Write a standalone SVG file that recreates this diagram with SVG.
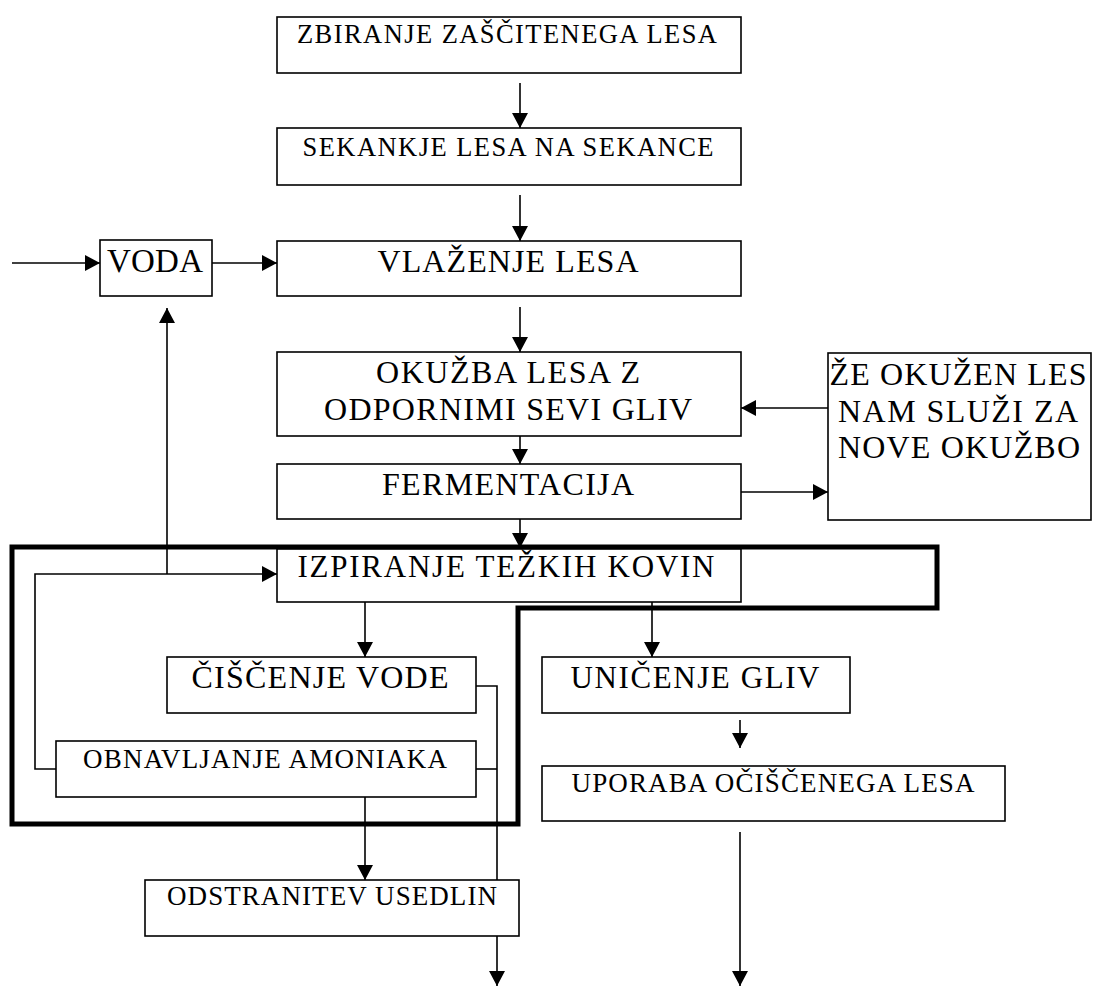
<svg xmlns="http://www.w3.org/2000/svg" width="1093" height="987" viewBox="0 0 1093 987">
<style>
.box{fill:#fff;stroke:#000;stroke-width:1.6}
.t{font-family:"Liberation Serif","Times New Roman",serif;fill:#000;text-anchor:middle}
.c{fill:none;stroke:#000;stroke-width:1.6}
.frame{fill:none;stroke:#000;stroke-width:5;stroke-linejoin:miter}
</style>
<defs>
<marker id="ah" markerUnits="userSpaceOnUse" markerWidth="16" markerHeight="16" refX="15" refY="8" orient="auto">
<path d="M0,0 L15,8 L0,16 Z" fill="#000"/>
</marker>
</defs>
<rect width="1093" height="987" fill="#fff"/>
<path class="frame" d="M12,547 H937 V608 H518 V824 H12 Z"/>
<g id="connectors">
<path class="c" d="M520,83 V128" marker-end="url(#ah)"/>
<path class="c" d="M520,195 V241" marker-end="url(#ah)"/>
<path class="c" d="M12,263 H100" marker-end="url(#ah)"/>
<path class="c" d="M212,263 H277" marker-end="url(#ah)"/>
<path class="c" d="M520,307 V352" marker-end="url(#ah)"/>
<path class="c" d="M520,436 V464" marker-end="url(#ah)"/>
<path class="c" d="M828,408 H741" marker-end="url(#ah)"/>
<path class="c" d="M741,492 H828" marker-end="url(#ah)"/>
<path class="c" d="M520,519 V548" marker-end="url(#ah)"/>
<path class="c" d="M167,574 V308" marker-end="url(#ah)"/>
<path class="c" d="M56,769 H35 V574 H277" marker-end="url(#ah)"/>
<path class="c" d="M365,602 V657" marker-end="url(#ah)"/>
<path class="c" d="M652,602 V657" marker-end="url(#ah)"/>
<path class="c" d="M476,686 H497 V986" marker-end="url(#ah)"/>
<path class="c" d="M476,769 H497"/>
<path class="c" d="M365,797 V880" marker-end="url(#ah)"/>
<path class="c" d="M740,720 V748" marker-end="url(#ah)"/>
<path class="c" d="M740,832 V986" marker-end="url(#ah)"/>
</g>
<g id="n1"><rect class="box" x="277" y="17" width="464" height="56"/><text class="t" x="507" y="43" font-size="26.5" textLength="420" lengthAdjust="spacing">ZBIRANJE ZAŠČITENEGA LESA</text></g>
<g id="n2"><rect class="box" x="277" y="128" width="464" height="57"/><text class="t" x="508" y="156" font-size="26.5" textLength="411" lengthAdjust="spacing">SEKANKJE LESA NA SEKANCE</text></g>
<g id="n3"><rect class="box" x="100" y="240" width="112" height="56"/><text class="t" x="155" y="272" font-size="33" textLength="96" lengthAdjust="spacing">VODA</text></g>
<g id="n4"><rect class="box" x="277" y="241" width="464" height="55"/><text class="t" x="508" y="272" font-size="32" textLength="261" lengthAdjust="spacing">VLAŽENJE LESA</text></g>
<g id="n5"><rect class="box" x="277" y="352" width="464" height="84"/><text class="t" x="508" y="383" font-size="32" textLength="264" lengthAdjust="spacing">OKUŽBA LESA Z</text><text class="t" x="508" y="420" font-size="32" textLength="368" lengthAdjust="spacing">ODPORNIMI SEVI GLIV</text></g>
<g id="n6"><rect class="box" x="277" y="464" width="464" height="55"/><text class="t" x="508" y="495" font-size="32" textLength="252" lengthAdjust="spacing">FERMENTACIJA</text></g>
<g id="n7"><rect class="box" x="828" y="353" width="263" height="167"/><text class="t" x="958" y="385" font-size="32" textLength="257" lengthAdjust="spacing">ŽE OKUŽEN LES</text><text class="t" x="958" y="422" font-size="32" textLength="240" lengthAdjust="spacing">NAM SLUŽI ZA</text><text class="t" x="959" y="458" font-size="32" textLength="242" lengthAdjust="spacing">NOVE OKUŽBO</text></g>
<g id="n8"><rect class="box" x="277" y="549" width="464" height="53"/><text class="t" x="506" y="577" font-size="31" textLength="417" lengthAdjust="spacing">IZPIRANJE TEŽKIH KOVIN</text></g>
<g id="n9"><rect class="box" x="167" y="657" width="309" height="56"/><text class="t" x="320" y="688" font-size="32" textLength="257" lengthAdjust="spacing">ČIŠČENJE VODE</text></g>
<g id="n10"><rect class="box" x="56" y="741" width="420" height="56"/><text class="t" x="265" y="768" font-size="27" textLength="364" lengthAdjust="spacing">OBNAVLJANJE AMONIAKA</text></g>
<g id="n11"><rect class="box" x="145" y="880" width="374" height="56"/><text class="t" x="332" y="905" font-size="27" textLength="330" lengthAdjust="spacing">ODSTRANITEV USEDLIN</text></g>
<g id="n12"><rect class="box" x="542" y="657" width="308" height="56"/><text class="t" x="695" y="688" font-size="31" textLength="249" lengthAdjust="spacing">UNIČENJE GLIV</text></g>
<g id="n13"><rect class="box" x="542" y="766" width="463" height="55"/><text class="t" x="773" y="792" font-size="27" textLength="403" lengthAdjust="spacing">UPORABA OČIŠČENEGA LESA</text></g>
</svg>
